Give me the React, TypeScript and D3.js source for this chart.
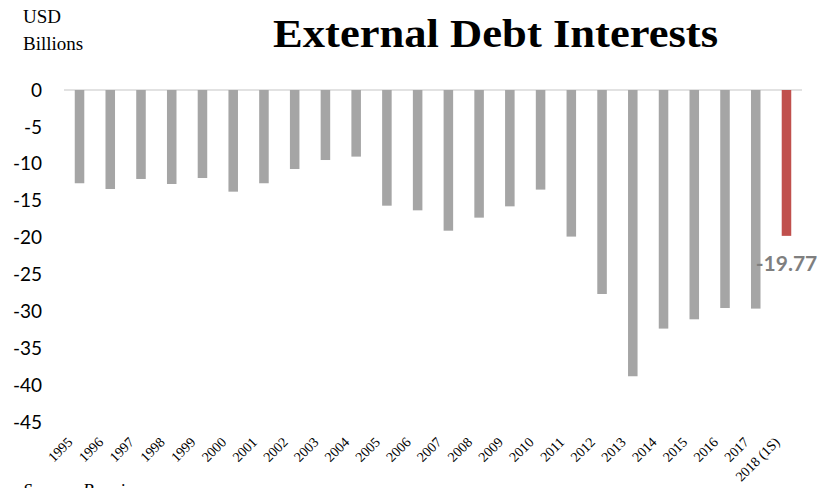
import React, { useEffect } from "react";
import * as d3 from "d3";

const categories = ["1995","1996","1997","1998","1999","2000","2001","2002","2003","2004","2005","2006","2007","2008","2009","2010","2011","2012","2013","2014","2015","2016","2017","2018 (1S)"];
const values = [-12.64,-13.42,-12.06,-12.74,-11.93,-13.78,-12.64,-10.71,-9.49,-9.03,-15.68,-16.31,-19.07,-17.3,-15.77,-13.5,-19.87,-27.65,-38.8,-32.34,-31.08,-29.55,-29.63,-19.77];
const yTicks = [0,-5,-10,-15,-20,-25,-30,-35,-40,-45];
const highlightLabel = "-19.77";

const W = 819, H = 488;

export default function App() {
  useEffect(() => { document.body.style.margin = "0"; }, []);
  const x = d3.scaleBand<string>().domain(categories).range([64, 802]).paddingInner(0.69).paddingOuter(0.35);
  const y = d3.scaleLinear().domain([-45, 0]).range([422, 90]);
  const serif = "'Liberation Serif', 'DejaVu Serif', serif";
  const sans = "Lato, 'Open Sans', sans-serif";
  const last = categories.length - 1;
  return (
    <svg width={W} height={H} style={{ display: "block", background: "#fff" }}>
      <text x={23} y={23} fontFamily={serif} fontSize={19} fill="#000">USD</text>
      <text x={23} y={50} fontFamily={serif} fontSize={19} fill="#000">Billions</text>
      <text x={273} y={47} textLength={445} lengthAdjust="spacingAndGlyphs" fontFamily={serif} fontWeight="bold" fontSize={40} fill="#000">External Debt Interests</text>
      {yTicks.map((t) => (
        <text key={t} x={42} y={y(t)} dy="0.35em" textAnchor="end" fontFamily={sans} fontSize={19} fill="#000">{t}</text>
      ))}
      <line x1={64} x2={802} y1={y(0)} y2={y(0)} stroke="#d9d9d9" strokeWidth={1.5} />
      {categories.map((c, i) => (
        <rect key={c} x={x(c)} y={y(0)} width={x.bandwidth()} height={y(values[i]) - y(0)} fill={i === last ? "#c0504d" : "#a5a5a5"} />
      ))}
      {categories.map((c) => {
        const cx = (x(c) as number) + x.bandwidth() / 2;
        return (
          <text key={c} transform={`translate(${cx - 6},${443}) rotate(-45)`} textAnchor="end" fontFamily={serif} fontSize={14} fill="#000">{c}</text>
        );
      })}
      <text x={(x(categories[last]) as number) + x.bandwidth() / 2} y={y(values[last]) + 35} textAnchor="middle" fontFamily={sans} fontWeight="bold" fontSize={21} fill="#7f7f7f">{highlightLabel}</text>
      <text x={23} y={497} fontFamily={serif} fontStyle="italic" fontSize={18} fill="#000">Source:  Banxico</text>
    </svg>
  );
}
